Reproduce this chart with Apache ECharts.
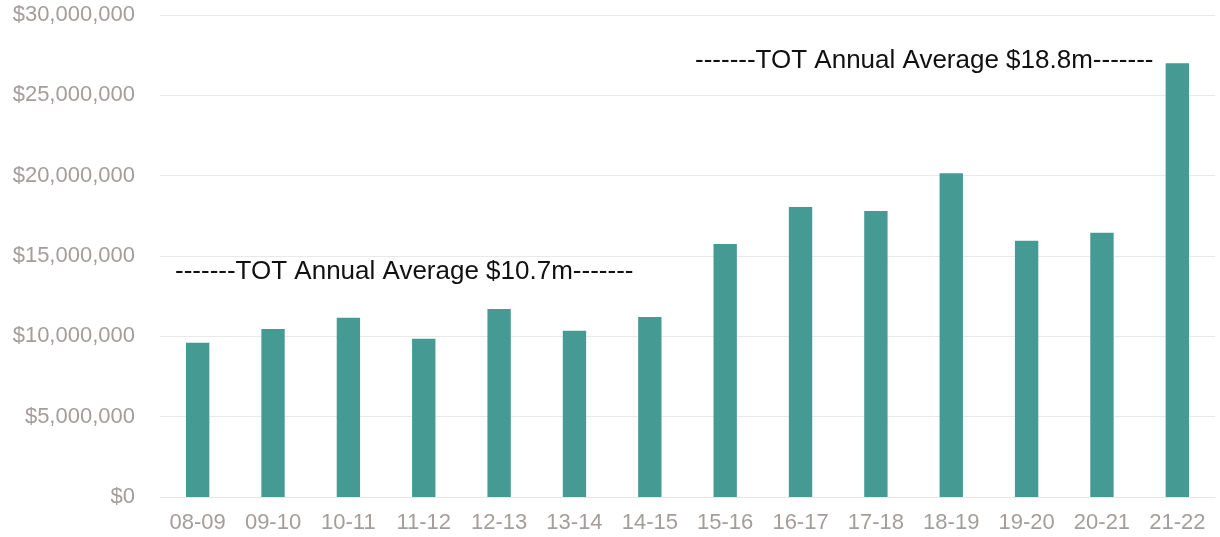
<!DOCTYPE html>
<html>
<head>
<meta charset="utf-8">
<script src="https://cdn.jsdelivr.net/npm/echarts@6/dist/echarts.min.js"></script>
<style>
  html, body { margin: 0; padding: 0; background: #fff; }
  #chart { width: 1220px; height: 537px; }
</style>
</head>
<body>
<div id="chart"></div>
<script>
const years = ['08-09', '09-10', '10-11', '11-12', '12-13', '13-14', '14-15',
  '15-16', '16-17', '17-18', '18-19', '19-20', '20-21', '21-22']
const totRevenue = [9600000, 10450000, 11150000, 9850000, 11700000, 10350000, 11200000,
  15750000, 18050000, 17800000, 20150000, 15950000, 16450000, 27000000]
const yTicks = [0, 5000000, 10000000, 15000000, 20000000, 25000000, 30000000]
const notes = ['-------TOT Annual Average $10.7m-------', '-------TOT Annual Average $18.8m-------']

const chart = echarts.init(document.getElementById('chart'))

const labelColor = '#a39d9b'

const option = {
  animation: false,
  grid: { left: 160, right: 5, top: 15, bottom: 40 },
  xAxis: {
    type: 'category',
    data: years,
    axisTick: { show: false },
    axisLine: { lineStyle: { color: '#e6e6e6' } },
    axisLabel: { color: labelColor, fontSize: 22, fontFamily: 'Liberation Sans, Arial', margin: 15 }
  },
  yAxis: {
    type: 'value',
    min: yTicks[0],
    max: yTicks[yTicks.length - 1],
    interval: yTicks[1] - yTicks[0],
    axisLine: { show: false },
    axisTick: { show: false },
    splitLine: { lineStyle: { color: '#e9e9e9' } },
    axisLabel: {
      color: labelColor,
      fontSize: 22,
      fontFamily: 'Liberation Sans, Arial',
      margin: 25,
      formatter: v => '$' + v.toLocaleString('en-US')
    }
  },
  series: [{
    type: 'bar',
    data: totRevenue,
    barWidth: '31%',
    itemStyle: { color: '#459a94' }
  }],
  graphic: [
    {
      type: 'text', left: 175, top: 259,
      style: { text: notes[0], font: '26px "Liberation Sans", Arial', fill: '#111' }
    },
    {
      type: 'text', left: 695, top: 48,
      style: { text: notes[1], font: '26px "Liberation Sans", Arial', fill: '#111' }
    }
  ]
}

chart.setOption(option)
window.addEventListener('resize', () => chart.resize())
</script>
</body>
</html>
